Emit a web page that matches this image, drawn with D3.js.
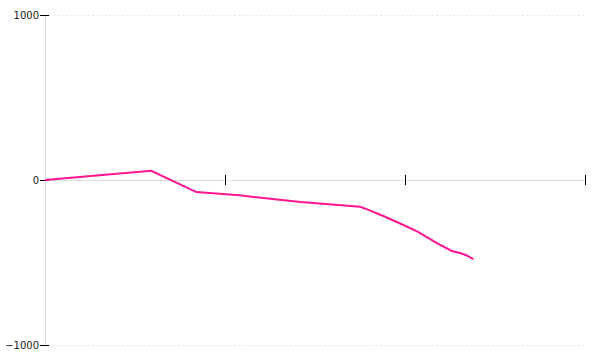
<!DOCTYPE html>
<html>
<head>
<meta charset="utf-8">
<script src="https://cdn.jsdelivr.net/npm/d3@7"></script>
<style>
  body { margin: 0; background: #fff; }
  svg { display: block; }
  .axis text { font-family: "DejaVu Sans", sans-serif; font-size: 10px; fill: #222; }
</style>
</head>
<body>
<svg width="600" height="360"></svg>
<script>
// data
const xValues = [0, 0.59, 0.78, 0.84, 1.08, 1.42, 1.75, 1.79, 1.88, 1.97, 2.07, 2.18, 2.26, 2.31, 2.34, 2.38];
const yValues = [0, 56, -42, -73, -93, -133, -162, -178, -218, -262, -313, -384, -430, -444, -456, -479];
const xTicks = [0, 1, 2, 3];
const yTicks = [-1000, 0, 1000];
const gridValues = [-1000, 1000];

const margin = {top: 15, right: 15, bottom: 15, left: 45};
const width = 600 - margin.left - margin.right;
const height = 360 - margin.top - margin.bottom;

const svg = d3.select("svg")
    .append("g")
    .attr("transform", `translate(${margin.left},${margin.top})`);

const x = d3.scaleLinear().domain([0, 3]).range([0, width]);
const y = d3.scaleLinear().domain([-1000, 1000]).range([height, 0]);

// dotted gridlines
svg.selectAll(".grid")
    .data(gridValues)
    .enter().append("line")
    .attr("x1", 4)
    .attr("x2", width)
    .attr("y1", d => y(d) + 0.5)
    .attr("y2", d => y(d) + 0.5)
    .style("stroke", "#e6e6e6")
    .style("stroke-dasharray", "2,2.3");

// x-axis at zero
const xAxis = svg.append("g")
    .attr("class", "axis")
    .attr("transform", `translate(0,${y(0)})`)
    .call(d3.axisBottom(x).tickValues(xTicks).tickFormat("").tickSizeOuter(0));
xAxis.select(".domain").style("stroke", "#ddd");
xAxis.selectAll(".tick line").attr("y1", -5).attr("y2", 5).style("stroke", "#000");

// y-axis
const yAxis = svg.append("g")
    .attr("class", "axis")
    .call(d3.axisLeft(y).tickValues(yTicks).tickFormat(d3.format("d")).tickSizeOuter(0));
yAxis.select(".domain").style("stroke", "#ddd");
yAxis.selectAll(".tick line").attr("x1", -5).attr("x2", 4).style("stroke", "#000");
yAxis.selectAll(".tick text").attr("x", -6).attr("dy", "0.34em");

// line
const points = xValues.map((d, i) => [d, yValues[i]]);
svg.append("path")
    .datum(points)
    .attr("fill", "none")
    .attr("stroke", "#ff1493")
    .attr("stroke-width", 2)
    .attr("d", d3.line().x(d => x(d[0])).y(d => y(d[1])));
</script>
</body>
</html>
